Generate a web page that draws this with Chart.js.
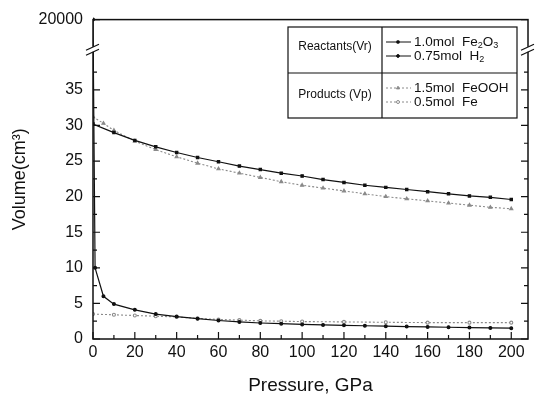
<!DOCTYPE html>
<html lang="en">
  <head>
    <meta charset="UTF-8" />
    <script src="https://cdn.jsdelivr.net/npm/chart.js"></script>
    <title>Volume vs pressure</title>
    <style>
      html, body { margin: 0; padding: 0; background: #fff; }
      #wrap { width: 536px; height: 401px; }
    </style>
  </head>
  <body>
    <div id="wrap"><canvas id="myChart"></canvas></div>
    <script>
      // values
      const fe2o3P = [0, 10, 20, 30, 40, 50, 60, 70, 80, 90, 100, 110, 120, 130, 140, 150, 160, 170, 180, 190, 200];
      const fe2o3V = [30.2, 29.0, 27.9, 27.0, 26.2, 25.5, 24.9, 24.3, 23.8, 23.3, 22.9, 22.4, 22.0, 21.6, 21.3, 21.0, 20.7, 20.4, 20.1, 19.9, 19.6];

      const h2P = [0, 1, 5, 10, 20, 30, 40, 50, 60, 70, 80, 90, 100, 110, 120, 130, 140, 150, 160, 170, 180, 190, 200];
      const h2V = [20000, 10.0, 6.0, 4.9, 4.1, 3.5, 3.15, 2.85, 2.6, 2.4, 2.25, 2.15, 2.05, 1.98, 1.92, 1.86, 1.8, 1.75, 1.7, 1.65, 1.6, 1.56, 1.52];

      const feoohP = [0, 5, 10, 20, 30, 40, 50, 60, 70, 80, 90, 100, 110, 120, 130, 140, 150, 160, 170, 180, 190, 200];
      const feoohV = [31.2, 30.3, 29.3, 27.8, 26.6, 25.6, 24.7, 23.9, 23.3, 22.7, 22.1, 21.6, 21.2, 20.8, 20.4, 20.0, 19.7, 19.4, 19.1, 18.8, 18.5, 18.3];

      const feP = [0, 10, 20, 30, 40, 50, 60, 70, 80, 90, 100, 120, 140, 160, 180, 200];
      const feV = [3.5, 3.4, 3.3, 3.2, 3.1, 2.9, 2.75, 2.65, 2.55, 2.5, 2.45, 2.4, 2.35, 2.3, 2.3, 2.3];

      const xTicks = [0, 20, 40, 60, 80, 100, 120, 140, 160, 180, 200];
      const xMinor = [10, 30, 50, 70, 90, 110, 130, 150, 170, 190];
      const yTicks = [0, 5, 10, 15, 20, 25, 30, 35, 20000];
      const yMinor = [2.5, 7.5, 12.5, 17.5, 22.5, 27.5, 32.5, 37.5];

      // broken axis: lower part 0..lowMax, upper part highMin..highMax
      const lowMax = 40.7;
      const highMin = 19000;
      const highMax = 20000;
      const breakFrac = 0.907;

      const black = "#111";
      const grey = "#8a8a8a";
      const font = "'Liberation Sans', Arial, sans-serif";

      class BrokenScale extends Chart.LinearScale {
        determineDataLimits() {
          this.min = 0;
          this.max = highMax;
        }
        buildTicks() {
          return yTicks.map((v) => ({ value: v }));
        }
        breakPixel() {
          return this.bottom - (this.bottom - this.top) * breakFrac;
        }
        getPixelForValue(v) {
          const brk = this.breakPixel();
          if (v <= lowMax) return this.bottom - (v / lowMax) * (this.bottom - brk);
          const t = Math.max(0, (v - highMin) / (highMax - highMin));
          return brk - t * (brk - this.top);
        }
        getValueForPixel(p) {
          const brk = this.breakPixel();
          if (p >= brk) return ((this.bottom - p) / (this.bottom - brk)) * lowMax;
          return highMin + ((brk - p) / (brk - this.top)) * (highMax - highMin);
        }
      }
      BrokenScale.id = "broken";
      BrokenScale.defaults = {};
      Chart.register(BrokenScale);

      const pts = (xs, ys) => xs.map((x, i) => ({ x: x, y: ys[i] }));

      const datasets = [
        {
          label: "1.0mol Fe2O3",
          data: pts(fe2o3P, fe2o3V),
          borderColor: black,
          backgroundColor: black,
          borderWidth: 1.2,
          pointStyle: "rect",
          pointRadius: 1.6,
        },
        {
          label: "0.75mol H2",
          data: pts(h2P, h2V),
          borderColor: black,
          backgroundColor: black,
          borderWidth: 1.2,
          pointStyle: "circle",
          pointRadius: 1.4,
        },
        {
          label: "1.5mol FeOOH",
          data: pts(feoohP, feoohV),
          borderColor: grey,
          backgroundColor: grey,
          borderWidth: 1.1,
          borderDash: [2, 2],
          pointStyle: "triangle",
          pointRadius: 1.8,
        },
        {
          label: "0.5mol Fe",
          data: pts(feP, feV),
          borderColor: grey,
          backgroundColor: "#fff",
          borderWidth: 1.1,
          borderDash: [2, 2],
          pointStyle: "circle",
          pointRadius: 1.5,
        },
      ];

      const legendRows = [
        { group: "Reactants(Vr)", items: [
          { ds: 0, parts: [["1.0mol  Fe"], ["2", 1], ["O"], ["3", 1]] },
          { ds: 1, parts: [["0.75mol  H"], ["2", 1]] },
        ] },
        { group: "Products (Vp)", items: [
          { ds: 2, parts: [["1.5mol  FeOOH"]] },
          { ds: 3, parts: [["0.5mol  Fe"]] },
        ] },
      ];

      function drawRich(ctx, parts, x, y) {
        parts.forEach((p) => {
          const sub = p[1] === 1;
          ctx.font = (sub ? "9px " : "13.5px ") + font;
          ctx.fillText(p[0], x, sub ? y + 4 : y);
          x += ctx.measureText(p[0]).width;
        });
      }

      const frame = {
        id: "frame",
        afterDraw(chart) {
          const { ctx, chartArea: a, scales } = chart;
          const x = scales.x, y = scales.y;
          ctx.save();
          ctx.strokeStyle = black;
          ctx.lineWidth = 1.5;
          ctx.setLineDash([]);
          ctx.strokeRect(a.left, a.top, a.right - a.left, a.bottom - a.top);

          ctx.lineWidth = 1.2;
          ctx.beginPath();
          xTicks.forEach((v) => { const px = x.getPixelForValue(v); ctx.moveTo(px, a.bottom); ctx.lineTo(px, a.bottom - 7); });
          xMinor.forEach((v) => { const px = x.getPixelForValue(v); ctx.moveTo(px, a.bottom); ctx.lineTo(px, a.bottom - 4); });
          yTicks.forEach((v) => {
            const py = y.getPixelForValue(v);
            ctx.moveTo(a.left, py); ctx.lineTo(a.left + 7, py);
            ctx.moveTo(a.right, py); ctx.lineTo(a.right - 7, py);
          });
          yMinor.forEach((v) => {
            const py = y.getPixelForValue(v);
            ctx.moveTo(a.left, py); ctx.lineTo(a.left + 4, py);
            ctx.moveTo(a.right, py); ctx.lineTo(a.right - 4, py);
          });
          ctx.stroke();

          // axis break marks
          const by = y.breakPixel();
          [a.left, a.right].forEach((bx) => {
            ctx.fillStyle = "#fff";
            ctx.fillRect(bx - 3, by - 2.5, 6, 5);
            ctx.beginPath();
            ctx.moveTo(bx - 7, by + 1); ctx.lineTo(bx + 6, by - 5);
            ctx.moveTo(bx - 7, by + 6); ctx.lineTo(bx + 6, by);
            ctx.stroke();
          });

          // legend table
          const L = 288, M = 382, R = 517, T = 27, Mid = 73, B = 118;
          ctx.lineWidth = 1.2;
          ctx.strokeRect(L, T, R - L, B - T);
          ctx.beginPath();
          ctx.moveTo(M, T); ctx.lineTo(M, B);
          ctx.moveTo(L, Mid); ctx.lineTo(R, Mid);
          ctx.stroke();

          ctx.fillStyle = black;
          ctx.textBaseline = "middle";
          const rowCenters = [[47, 42, 56], [95, 88, 102]];
          legendRows.forEach((row, r) => {
            ctx.font = "12px " + font;
            ctx.textAlign = "center";
            ctx.fillStyle = black;
            ctx.fillText(row.group, (L + M) / 2, rowCenters[r][0]);
            ctx.textAlign = "left";
            row.items.forEach((it, k) => {
              const ds = datasets[it.ds];
              const yy = rowCenters[r][k + 1];
              ctx.save();
              ctx.strokeStyle = ds.borderColor;
              ctx.lineWidth = 1;
              ctx.setLineDash(ds.borderDash || []);
              ctx.beginPath();
              ctx.moveTo(386, yy); ctx.lineTo(411, yy);
              ctx.stroke();
              ctx.setLineDash([]);
              ctx.fillStyle = ds.backgroundColor;
              Chart.helpers.drawPoint(ctx, { pointStyle: ds.pointStyle, radius: ds.pointRadius, rotation: 0, borderWidth: 1 }, 398, yy);
              ctx.restore();
              ctx.fillStyle = black;
              drawRich(ctx, it.parts, 414, yy);
            });
          });
          ctx.restore();
        },
      };

      const config = {
        type: "line",
        data: { datasets },
        options: {
          responsive: true,
          maintainAspectRatio: false,
          animation: false,
          events: [],
          layout: { padding: { top: 15, right: 8, left: 0, bottom: 0 } },
          plugins: { legend: { display: false }, tooltip: { enabled: false } },
          scales: {
            x: {
              type: "linear",
              min: 0,
              max: 208,
              afterBuildTicks: (s) => { s.ticks = xTicks.map((v) => ({ value: v })); },
              afterFit: (s) => { s.height = 62; },
              grid: { display: false, drawTicks: false },
              border: { display: false },
              ticks: { color: black, padding: 4, font: { family: font, size: 16 }, maxRotation: 0, autoSkip: false },
              title: { display: true, text: "Pressure, GPa", color: black, font: { family: font, size: 19 }, padding: { top: 0, bottom: 4 } },
            },
            y: {
              type: "broken",
              position: "left",
              afterFit: (s) => { s.width = 93; },
              grid: { display: false, drawTicks: false },
              border: { display: false },
              ticks: { color: black, padding: 10, autoSkip: false, font: { family: font, size: 16 }, callback: (v) => String(v) },
              title: { display: true, text: "Volume(cm³)", color: black, font: { family: font, size: 18 }, padding: { top: 9, bottom: 0 } },
            },
          },
        },
        plugins: [frame],
      };

      var myChart = new Chart(document.getElementById("myChart"), config);
    </script>
  </body>
</html>
